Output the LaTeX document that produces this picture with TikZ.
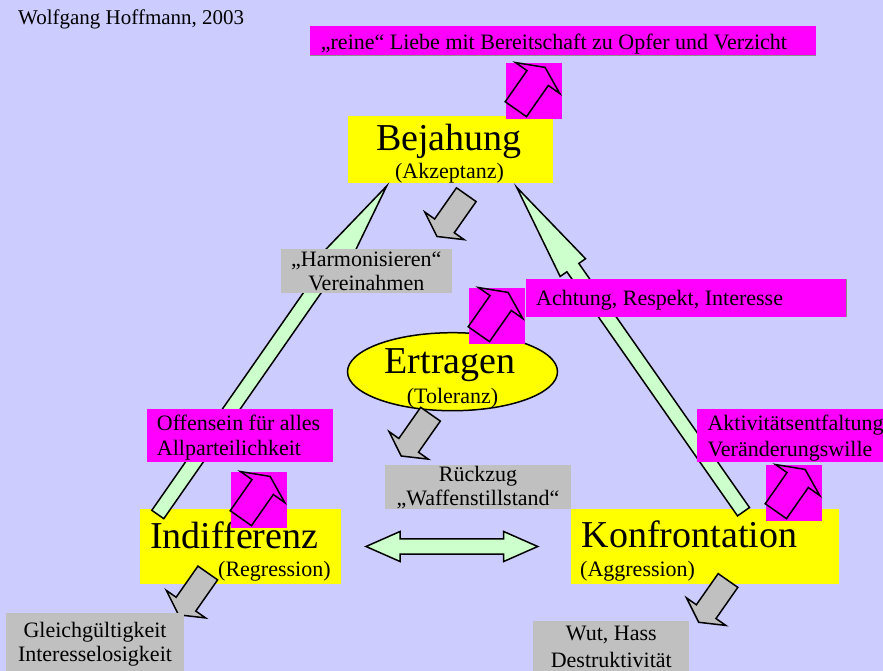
\documentclass[tikz,border=0pt]{standalone}
\usepackage{fontspec}
\setmainfont{Liberation Serif}
\usetikzlibrary{calc,shapes.geometric}

\definecolor{lav}{HTML}{CCCCFF}
\definecolor{mag}{HTML}{FF00FF}
\definecolor{yel}{HTML}{FFFF00}
\definecolor{gry}{HTML}{C0C0C0}
\definecolor{mint}{HTML}{CCFFCC}
\definecolor{edgegray}{HTML}{8C8C8C}

% Block arrow from a tail point (#2) to a tip point (#3):
% #4 shaft half width, #5 head half width, #6 head length
\newcommand\blockarrow[6]{%
  \coordinate (ba-h) at ($(#3)!#6!(#2)$);
  \draw[#1] ($(#2)!#4!90:(#3)$) -- ($(ba-h)!#4!90:(#3)$) -- ($(ba-h)!#5!90:(#3)$)
    -- (#3) -- ($(ba-h)!#5!-90:(#3)$) -- ($(ba-h)!#4!-90:(#3)$)
    -- ($(#2)!#4!-90:(#3)$) -- cycle;
}

% Magenta square with a short up-right block arrow in it
\newcommand\magsquare[3]{%
  \node[magbox, minimum width=56pt, minimum height=56pt] (#1) at (#2,#3) {};
  \coordinate (#1-tail) at ($(#1.north west)+(9.85,46.2)$);
  \coordinate (#1-tip) at ($(#1.north west)+(39.1,4.4)$);
  \blockarrow{magarrow}{#1-tail}{#1-tip}{13pt}{27pt}{13pt}
}

\begin{document}
\begin{tikzpicture}[x=1pt,y=-1pt,
  boxbase/.style={rectangle, inner sep=0pt, outer sep=0pt, anchor=north west},
  magbox/.style={boxbase, fill=mag},
  graybox/.style={boxbase, fill=gry},
  yelbox/.style={boxbase, fill=yel},
  lbl/.style={inner sep=0pt, font=\fontsize{22}{25}\selectfont},
  bigword/.style={inner sep=0pt, font=\fontsize{38}{42}\selectfont},
  authortext/.style={inner sep=0pt, font=\fontsize{21}{24}\selectfont},
  outline/.style={draw=black, line width=1.5pt, line join=miter},
  greenarrow/.style={outline, fill=mint},
  grayarrow/.style={outline, fill=gry},
  magarrow/.style={outline, fill=mag}]

\useasboundingbox (0,0) rectangle (883,671);
\clip (0,0) rectangle (883,671);
\fill[lav] (0,0) rectangle (883,671);

% author
\node[authortext, anchor=base west] (author) at (18,25) {Wolfgang Hoffmann, 2003};

% the three stances and the middle one
\node[yelbox, minimum width=205pt, minimum height=67pt] (bejbox) at (348,116) {};
\node[bigword, anchor=base] (bej) at (449,150.5) {Bejahung};
\node[lbl, anchor=base] (akz) at (449.5,178.5) {(Akzeptanz)};

\node[ellipse, draw=black, line width=1.5pt, fill=yel, inner sep=0pt,
      minimum width=210pt, minimum height=78pt] (ertbox) at (452.5,371.7) {};
\node[bigword, anchor=base] (ert) at (450,373.3) {Ertragen};
\node[lbl, anchor=base] (tol) at (452.5,403) {(Toleranz)};

\node[yelbox, minimum width=200.7pt, minimum height=74.7pt] (indbox) at (140,509.3) {};
\node[bigword, anchor=base west] (ind) at (150,548.3) {Indifferenz};
\node[lbl, anchor=base west] (reg) at (218,576.5) {(Regression)};

\node[yelbox, minimum width=268pt, minimum height=74.7pt] (konbox) at (571,509.3) {};
\node[bigword, anchor=base west] (kon) at (581.7,547.3) {Konfrontation};
\node[lbl, anchor=base west] (agg) at (580,576.5) {(Aggression)};

% long green arrows up to Bejahung
\coordinate (gl-tail) at (157.8,514.5);
\coordinate (gl-tip) at (386.7,186);
\blockarrow{greenarrow}{gl-tail}{gl-tip}{7.3pt}{15.5pt}{98pt}
\coordinate (gr-tail) at (743.5,511.7);
\coordinate (gr-tip) at (516.7,187.3);
\blockarrow{greenarrow}{gr-tail}{gr-tip}{7.3pt}{15.5pt}{98pt}

% double arrow between Indifferenz and Konfrontation
\coordinate (dl) at (366,546.5);
\coordinate (dr) at (537.7,546.5);
\draw[greenarrow] (dl) -- ($(dl)+(34,-15)$) -- ($(dl)+(34,-7.6)$) -- ($(dr)+(-34,-7.6)$)
  -- ($(dr)+(-34,-15)$) -- (dr) -- ($(dr)+(-34,15)$) -- ($(dr)+(-34,7.6)$)
  -- ($(dl)+(34,7.6)$) -- ($(dl)+(34,15)$) -- cycle;

% grey arrows pointing down-left
\coordinate (ga1-tail) at (466.3,194.7);  \coordinate (ga1-tip) at (437,236.5);
\blockarrow{grayarrow}{ga1-tail}{ga1-tip}{12pt}{24pt}{13pt}
\coordinate (ga2-tail) at (430.5,414.2);  \coordinate (ga2-tip) at (401.2,456);
\blockarrow{grayarrow}{ga2-tail}{ga2-tip}{12pt}{24pt}{13pt}
\coordinate (ga3-tail) at (207.8,573);    \coordinate (ga3-tip) at (178.5,614.8);
\blockarrow{grayarrow}{ga3-tail}{ga3-tip}{12pt}{24pt}{13pt}
\coordinate (ga4-tail) at (728,580.5);    \coordinate (ga4-tip) at (698.7,622.3);
\blockarrow{grayarrow}{ga4-tail}{ga4-tip}{12pt}{24pt}{13pt}

% labels
\node[magbox, minimum width=506pt, minimum height=30pt] (topbox) at (310,26) {};
\draw[edgegray, line width=1pt] (topbox.south west) -- (topbox.south east);
\node[lbl, anchor=base west] (toptext) at (320.7,49.3) {„reine“ Liebe mit Bereitschaft zu Opfer und Verzicht};

\node[graybox, minimum width=170.7pt, minimum height=44.3pt] (harmbox) at (281,249) {};
\node[lbl, anchor=base] (harm1) at (366.3,266) {„Harmonisieren“};
\node[lbl, anchor=base] (harm2) at (366.3,290.7) {Vereinahmen};

\node[magbox, minimum width=320.7pt, minimum height=37.7pt] (achbox) at (526,279) {};
\draw[edgegray, line width=1pt] (achbox.north east) -- (achbox.south east);
\node[lbl, anchor=base west] (ach) at (536,305) {Achtung, Respekt, Interesse};

\node[magbox, minimum width=186pt, minimum height=52.7pt] (offbox) at (147.3,409) {};
\node[lbl, anchor=base west] (off1) at (156.7,430) {Offensein für alles};
\node[lbl, anchor=base west] (off2) at (156.7,455) {Allparteilichkeit};

\node[magbox, minimum width=200pt, minimum height=52.4pt] (aktbox) at (697.3,409.3) {};
\node[lbl, anchor=base west] (akt1) at (707.3,430) {Aktivitätsentfaltung};
\node[lbl, anchor=base west] (akt2) at (707.3,456) {Veränderungswille};

\node[graybox, minimum width=186pt, minimum height=44.3pt] (rueckbox) at (385,465) {};
\node[lbl, anchor=base] (rueck1) at (478,481.7) {Rückzug};
\node[lbl, anchor=base] (rueck2) at (478,505) {„Waffenstillstand“};

\node[graybox, minimum width=178.3pt, minimum height=70pt] (gleichbox) at (6,613.3) {};
\node[lbl, anchor=base] (gleich1) at (95,637.3) {Gleichgültigkeit};
\node[lbl, anchor=base] (gleich2) at (95,661.7) {Interesselosigkeit};

\node[graybox, minimum width=156pt, minimum height=60pt] (wutbox) at (533.3,621) {};
\node[lbl, anchor=base] (wut1) at (611.3,640.7) {Wut, Hass};
\node[lbl, anchor=base] (wut2) at (611.3,667.7) {Destruktivität};

% magenta squares with up-right arrows
\magsquare{sqtop}{506}{63}
\magsquare{sqach}{469}{288}
\magsquare{sqind}{231}{472}
\magsquare{sqkon}{766}{465}

\end{tikzpicture}
\end{document}
